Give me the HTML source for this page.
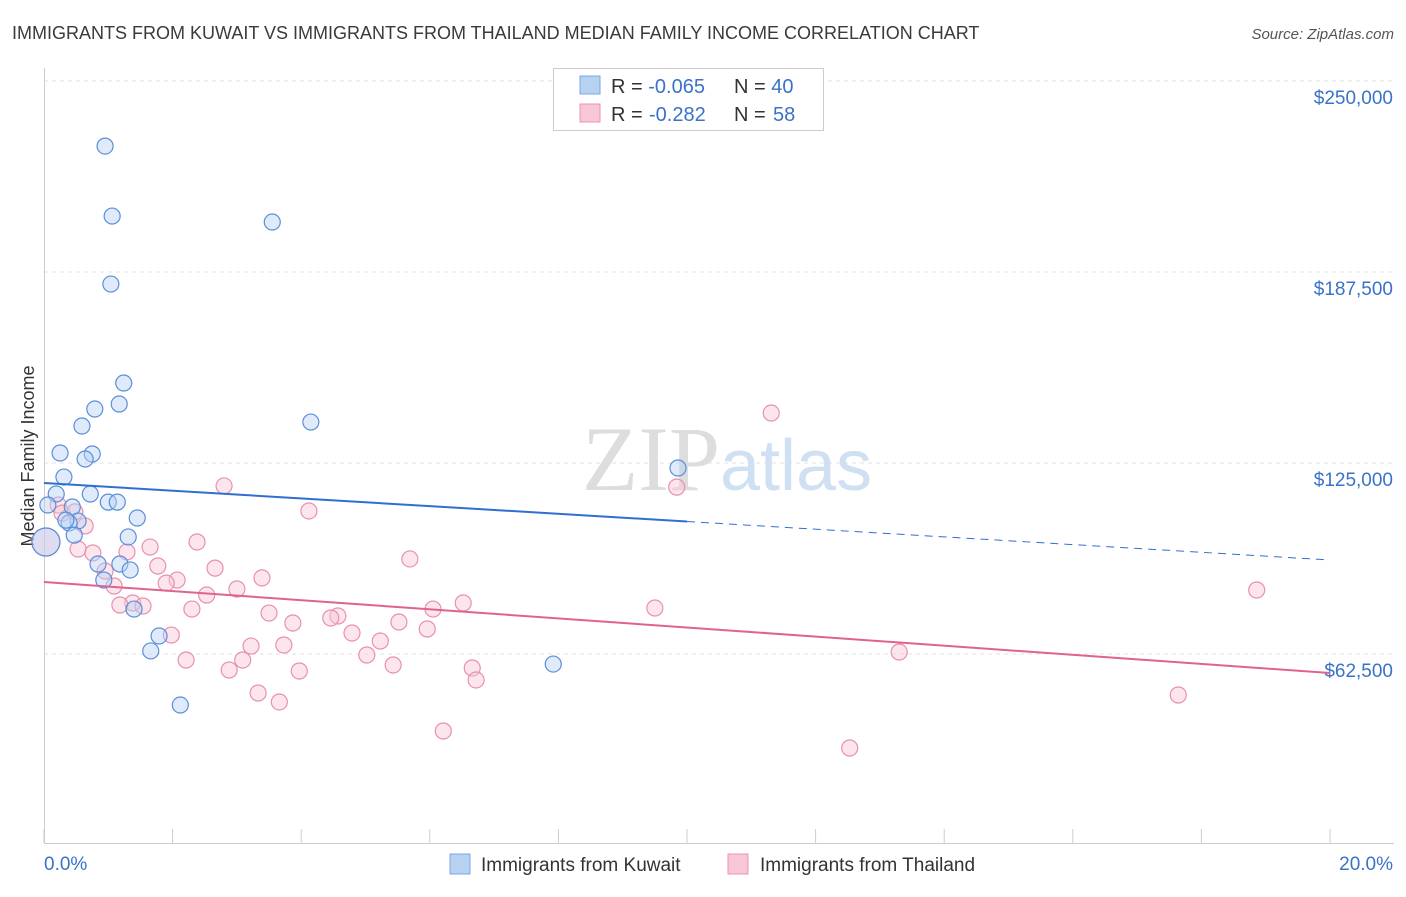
<!DOCTYPE html>
<html><head><meta charset="utf-8"><style>
body{margin:0;background:#fff;font-family:"Liberation Sans",sans-serif}
</style></head><body>
<svg width="1406" height="892" xmlns="http://www.w3.org/2000/svg" font-family="Liberation Sans, sans-serif">
<text x="12" y="39" font-size="18" fill="#3a3a3a">IMMIGRANTS FROM KUWAIT VS IMMIGRANTS FROM THAILAND MEDIAN FAMILY INCOME CORRELATION CHART</text>
<text x="1394" y="39" font-size="15" fill="#555" text-anchor="end" font-style="italic">Source: ZipAtlas.com</text>
<g id="grid"></g>
<text x="720" y="490" font-size="92" fill="#ddd" text-anchor="end" font-family="Liberation Serif, serif">ZIP</text>
<text x="720" y="490" font-size="72" fill="#cfe0f3">atlas</text>
<text transform="translate(34,456) rotate(-90)" font-size="18" fill="#333" text-anchor="middle">Median Family Income</text>
<g id="marks"></g>
<g>
<rect x="553.5" y="68.5" width="270" height="62" fill="#fff" stroke="#ccc"/>
<rect x="580" y="76" width="20" height="18" fill="#b7d1f3" stroke="#7aa6e0"/>
<rect x="580" y="104" width="20" height="18" fill="#f9c6d6" stroke="#ec93b0"/>
<text x="611" y="93" font-size="20" fill="#333">R = <tspan fill="#3a72c8">-0.065</tspan><tspan x="734">N = </tspan><tspan fill="#3a72c8">40</tspan></text>
<text x="611" y="121" font-size="20" fill="#333">R = <tspan fill="#3a72c8" x="649">-0.282</tspan><tspan x="734">N = </tspan><tspan fill="#3a72c8" x="773">58</tspan></text>
</g>
<g>
<rect x="450" y="854" width="20" height="20" fill="#b7d1f3" stroke="#7aa6e0"/>
<text x="481" y="871" font-size="19" fill="#333">Immigrants from Kuwait</text>
<rect x="728" y="854" width="20" height="20" fill="#f9c6d6" stroke="#ec93b0"/>
<text x="760" y="871" font-size="19" fill="#333">Immigrants from Thailand</text>
</g>
</svg>
<script>
const yTicks=[62500,125000,187500,250000];
const yTickLabels=["$62,500","$125,000","$187,500","$250,000"];
const xTickLabels=["0.0%","20.0%"];
const kuwaitX=[0.95,1.06,3.55,1.04,1.24,1.17,0.79,0.59,4.15,0.25,0.75,0.64,0.31,9.86,0.19,0.72,1.0,1.14,0.06,0.44,1.45,0.53,0.39,0.47,1.31,0.03,0.84,1.18,1.34,0.93,1.40,1.79,1.66,7.92,2.12,0.34];
const kuwaitY=[228700,205800,203850,183560,151170,144300,142660,137100,138400,128270,127940,126300,120400,123360,114850,114850,112200,112200,111250,110600,107000,106000,105400,101400,100800,99150,91950,91950,90000,86700,77200,68400,63500,59200,45800,106300];
const thaiX=[11.31,9.84,2.80,4.12,0.22,0.28,0.64,0.48,2.38,1.65,0.53,0.76,1.29,5.69,1.77,2.66,0.95,3.39,2.07,1.90,1.09,3.0,2.53,18.86,1.38,1.54,1.18,6.52,2.30,6.05,9.50,3.5,4.57,4.46,3.87,5.52,5.96,1.98,4.79,5.23,3.22,3.73,5.02,13.30,2.21,3.09,2.88,3.97,5.43,6.66,6.72,3.33,3.66,17.64,6.21,12.53,0.03];
const thaiY=[141350,117100,117500,109300,111250,108600,104400,109000,99150,97500,96850,95550,95900,93600,91300,90600,89650,87400,86700,85700,84750,83770,81800,83440,79190,78200,78530,79190,77200,77200,77550,75900,74930,74280,72640,72970,70680,68700,69370,66750,65100,65440,62170,63150,60540,60540,57260,56940,58900,57920,54000,49740,46800,49080,37300,31740,99150];
const kuwaitTrend=[118450,93260];
const thaiTrend=[86060,56280];
const NS="http://www.w3.org/2000/svg";
const X=v=>44+v*64.3, Y=v=>654-(v-62500)*191/62500;
function mk(t,a,p){const e=document.createElementNS(NS,t);for(const k in a)e.setAttribute(k,a[k]);p.appendChild(e);return e;}
const g=document.getElementById('grid'), m=document.getElementById('marks');
yTicks.forEach((v,i)=>{
 const l=mk('line',{x1:44,x2:1394,y1:Y(v),y2:Y(v),stroke:'#e2e2e2','stroke-dasharray':'4,4'},g);
 
 
 const t=mk('text',{x:1393,y:Y(v)+23,'font-size':19,fill:'#3a72c8','text-anchor':'end'},g);
 t.textContent=yTickLabels[i];
 
 
});
const ax=mk('line',{x1:44,x2:1394,y1:843.5,y2:843.5,stroke:'#ccc'},g);


const ay=mk('line',{x1:44.5,x2:44.5,y1:68,y2:843,stroke:'#ccc'},g);


for(let i=0;i<=10;i++){const t=mk('line',{x1:X(i*2),x2:X(i*2),y1:829,y2:843,stroke:'#ccc'},g);
 
 }
xTickLabels.forEach((s,i)=>{const t=mk('text',{x:i?1393:44,y:870,'font-size':19,fill:'#3a72c8','text-anchor':i?'end':'start'},g);t.textContent=s;
 
 });
function pts(xs,ys,fill,stroke,name){xs.forEach((x,i)=>{const big=x<0.1&&ys[i]>98000&&ys[i]<100000;
 const c=mk('circle',{cx:X(x),cy:Y(ys[i]),r:big?14:8,fill,stroke,'fill-opacity':0.45,'stroke-width':1.2},m);
 
 });}
pts(thaiX,thaiY,'#f9c6d6','#e890ae','thailand-point');
pts(kuwaitX,kuwaitY,'#b7d1f3','#5b8fd8','kuwait-point');
const bm=kuwaitTrend[0]+(kuwaitTrend[1]-kuwaitTrend[0])*0.5;
const b1=mk('line',{x1:X(0),y1:Y(kuwaitTrend[0]),x2:X(10),y2:Y(bm),stroke:'#2f6fd0','stroke-width':2},m);


const b2=mk('line',{x1:X(10),y1:Y(bm),x2:X(20),y2:Y(kuwaitTrend[1]),stroke:'#2f6fd0','stroke-width':1,'stroke-dasharray':'8,6'},m);


const p1=mk('line',{x1:X(0),y1:Y(thaiTrend[0]),x2:X(20),y2:Y(thaiTrend[1]),stroke:'#e0628f','stroke-width':2},m);


</script>
</body></html>
